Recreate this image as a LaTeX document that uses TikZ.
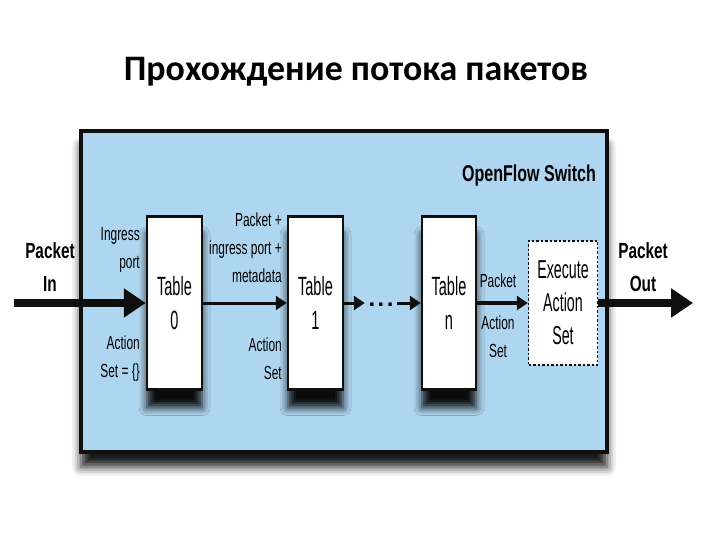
\documentclass[tikz,border=0pt]{standalone}
\usepackage{fontspec}
\setmainfont{Liberation Sans}
\newfontfamily\titlefont{Carlito}
\newfontfamily\narrowfont[FakeStretch=0.55]{Liberation Sans}
\newfontfamily\labelfont[FakeStretch=0.63]{Liberation Sans}
\newfontfamily\headfont[FakeStretch=0.7]{Liberation Sans}
\usetikzlibrary{arrows.meta, positioning, shadows.blur}
\definecolor{cSwitch}{RGB}{175,214,240}
\definecolor{cInk}{RGB}{15,15,15}
\tikzset{
	switchbox/.style={rectangle, draw=cInk, line width=4bp, fill=cSwitch, minimum width=526bp, minimum height=321bp, blur shadow={shadow xshift=0bp, shadow yshift=-15bp, shadow blur radius=9bp, shadow opacity=90}},
	tablebox/.style ={rectangle, draw=cInk, line width=2.5bp, fill=white, minimum width=55bp, minimum height=173bp, align=center, font=\narrowfont\fontsize{26.5}{34}\selectfont, blur shadow={shadow xshift=0bp, shadow yshift=-18bp, shadow blur radius=8bp, shadow opacity=95}},
	execbox/.style  ={rectangle, draw=cInk, line width=1.3bp, dash pattern=on 2.5bp off 2bp, fill=white, minimum width=69bp, minimum height=124bp, align=center, font=\narrowfont\fontsize{26}{33}\selectfont},
	biglbl/.style   ={align=center, font=\headfont\bfseries\fontsize{22}{33}\selectfont},
	lbl/.style      ={align=right, font=\labelfont\fontsize{19}{28}\selectfont, inner sep=0pt},
	bigarrow/.style ={-{Triangle[length=22bp, width=28bp]}, line width=8bp, cInk},
	flow/.style     ={-{Triangle[length=11bp, width=14bp]}, line width=3bp, cInk},
}
\begin{document}
\begin{tikzpicture}[x=1bp, y=-1bp]
	\useasboundingbox (0,0) rectangle (720,540);
	\node[font=\titlefont\bfseries\fontsize{36}{40}\selectfont] (title) at (356,72) {Прохождение потока пакетов};
	% switch frame
	\node[switchbox] (sw) at (344,291.5) {};
	\node[biglbl, font=\headfont\bfseries\fontsize{23}{28}\selectfont, anchor=east, inner sep=0pt] (oflbl) at (596,176) {OpenFlow Switch};
	% flow tables
	\node[tablebox] (t0) at (174.5,303) {Table\\0};
	\node[tablebox] (t1) at (315.5,303) {Table\\1};
	\node[tablebox, minimum width=54bp] (tn) at (449,303) {Table\\n};
	\node[inner sep=0pt, minimum width=32bp, minimum height=8bp] (dots) at (381,303) {};
	\node[font=\bfseries\fontsize{24}{24}\selectfont, inner sep=0pt] (dotstxt) at (381,304.5) {.\kern2.5bp.\kern2.5bp.};
	\node[execbox] (exec) at (563,303) {Execute\\Action\\Set};
	% packet in / out
	\node[biglbl] (pin) at (50,267) {Packet\\In};
	\node[biglbl] (pout) at (643,267) {Packet\\Out};
	\coordinate (src) at (14,303);
	\coordinate (dst) at (693,303);
	% labels along the pipeline
	\node[lbl, anchor=east] (ingress) at (140,250) {Ingress\\port};
	\node[lbl, anchor=east] (aset0) at (140,359) {Action\\Set = \{\}};
	\node[lbl, anchor=east] (meta) at (282,248) {Packet +\\ingress port +\\metadata};
	\node[lbl, anchor=east] (aset1) at (282,359) {Action\\Set};
	\node[lbl, align=center] (pkt) at (498,281) {Packet};
	\node[lbl, align=center] (asetn) at (498,337) {Action\\Set};
	\draw[bigarrow] (src) -- (t0.west);
	\draw[flow] (t0.east) -- (t1.west);
	\draw[flow] (t1.east) -- (dots.west);
	\draw[flow] (dots.east) -- (tn.west);
	\draw[flow, line width=4bp] (tn.east) -- (exec.west);
	\draw[bigarrow] (exec.east) -- (dst);
\end{tikzpicture}
\end{document}
